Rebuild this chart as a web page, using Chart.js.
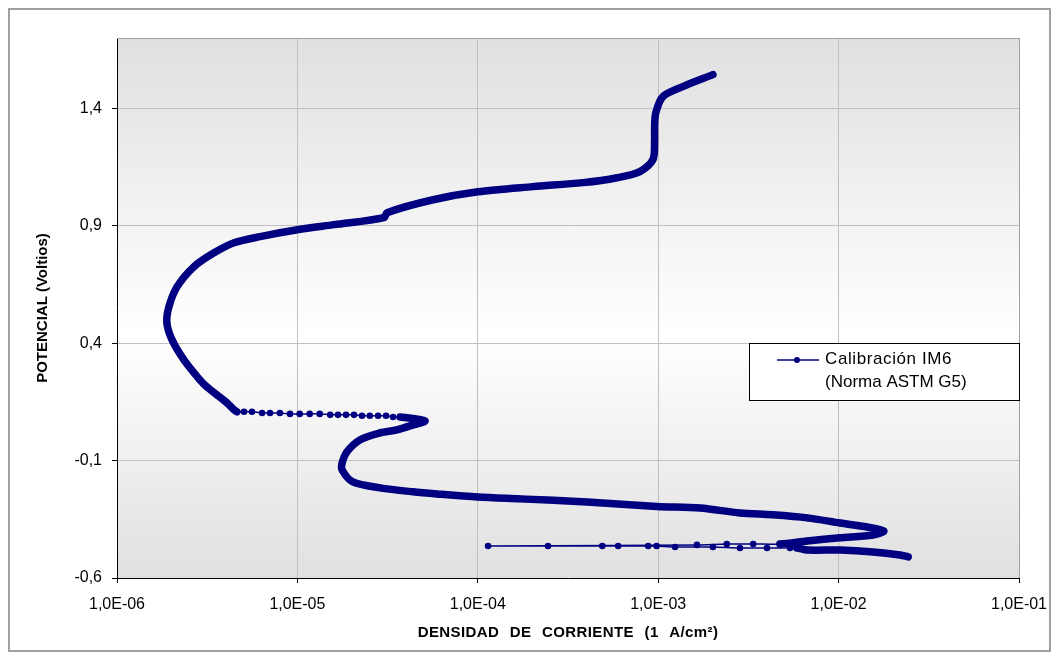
<!DOCTYPE html>
<html>
<head>
<meta charset="utf-8">
<script src="https://cdn.jsdelivr.net/npm/chart.js@4.4.1/dist/chart.umd.min.js"></script>
<style>
  html, body { margin: 0; padding: 0; background: #fff; }
  #wrap { width: 1060px; height: 660px; }
</style>
</head>
<body>
<div id="wrap"><canvas id="myChart"></canvas></div>
<script>
// Polarisation curve (ASTM G5 calibration), current density vs potential

// cathodic branch, from the lowest potential
const cathodicJ = [2.43e-2, 2.19e-2, 1.55e-2, 1.02e-2, 6.7e-3];
const cathodicE = [-0.510, -0.502, -0.489, -0.481, -0.481];

// around Ecorr: sparse points going left and back
const ecorrJ = [5.87e-3, 5.38e-3, 4.01e-3, 2.84e-3, 2.01e-3, 1.24e-3, 9.8e-4, 8.8e-4, 6.0e-4, 4.9e-4, 2.45e-4, 1.14e-4,
  1.64e-3, 2.40e-3, 3.36e-3, 4.73e-3];
const ecorrE = [-0.472, -0.472, -0.472, -0.472, -0.468, -0.468, -0.464, -0.464, -0.464, -0.464, -0.464, -0.464,
  -0.459, -0.455, -0.455, -0.455];

// active peak and secondary loop
const activeJ = [6.7e-3, 1.02e-2, 1.55e-2, 1.78e-2, 1.44e-2, 1.02e-2, 6.7e-3, 4.3e-3, 2.84e-3, 1.71e-3, 9.8e-4,
  4.03e-4, 1.71e-4, 1.0e-4, 5.94e-5, 4.38e-5, 2.87e-5, 2.03e-5, 1.77e-5, 1.77e-5, 1.88e-5, 2.22e-5, 2.87e-5,
  3.56e-5, 4.38e-5, 5.09e-5];
const activeE = [-0.442, -0.429, -0.417, -0.400, -0.383, -0.366, -0.344, -0.331, -0.323, -0.302, -0.295,
  -0.276, -0.263, -0.255, -0.242, -0.233, -0.216, -0.191, -0.140, -0.110, -0.063, -0.012, 0.018,
  0.031, 0.052, 0.069];

// drop after the secondary peak (single visible dots)
const dropJ = [3.71e-5, 3.39e-5, 3.10e-5, 2.80e-5, 2.52e-5, 2.28e-5, 2.06e-5, 1.86e-5, 1.68e-5, 1.52e-5,
  1.33e-5, 1.17e-5, 1.03e-5, 9.1e-6, 8.0e-6, 7.05e-6, 6.37e-6, 5.6e-6, 5.06e-6, 4.62e-6];
const dropE = [0.086, 0.086, 0.091, 0.091, 0.091, 0.091, 0.095, 0.095, 0.095, 0.095,
  0.099, 0.099, 0.099, 0.099, 0.103, 0.103, 0.103, 0.108, 0.108, 0.108];

// passive region and transpassive rise
const passiveJ = [4.07e-6, 3.15e-6, 2.88e-6, 2.35e-6, 2.02e-6, 1.89e-6, 1.94e-6, 2.15e-6, 2.67e-6, 3.45e-6, 4.46e-6,
  6.21e-6, 1.0e-5, 1.60e-5, 3.02e-5, 3.14e-5, 5.65e-5, 1.0e-4, 2.02e-4, 3.83e-4, 5.92e-4, 7.92e-4, 9.35e-4,
  9.55e-4, 9.55e-4, 9.7e-4, 1.06e-3, 1.37e-3, 2.01e-3];
const passiveE = [0.146, 0.214, 0.244, 0.329, 0.414, 0.487, 0.555, 0.640, 0.726, 0.785, 0.828,
  0.854, 0.883, 0.905, 0.935, 0.956, 1.011, 1.045, 1.067, 1.084, 1.105, 1.131, 1.182,
  1.267, 1.322, 1.382, 1.450, 1.493, 1.544];

const xTicks = [1e-6, 1e-5, 1e-4, 1e-3, 1e-2, 1e-1];
const yTicks = [-0.6, -0.1, 0.4, 0.9, 1.4];
const xTitle = "DENSIDAD DE CORRIENTE (1 A/cm²)";
const legendLines = ["Calibración IM6", "(Norma ASTM G5)"];

const lineColor = "#000080";

// join the branches into one series, remember which points are the loose dotted ones
const branches = [
  { j: cathodicJ, e: cathodicE, dotted: false },
  { j: ecorrJ, e: ecorrE, dotted: true },
  { j: activeJ, e: activeE, dotted: false },
  { j: dropJ, e: dropE, dotted: true },
  { j: passiveJ, e: passiveE, dotted: false },
];
const points = [];
const dottedAt = [];
branches.forEach((b) => {
  b.j.forEach((j, i) => {
    points.push({ x: j, y: b.e[i] });
    dottedAt.push(b.dotted);
  });
});

function sciLabel(v) {
  const [m, e] = v.toExponential(1).split("e");
  const exp = Math.abs(parseInt(e, 10)).toString().padStart(2, "0");
  return m.replace(".", ",") + "E" + (parseInt(e, 10) < 0 ? "-" : "+") + exp;
}

// plot background, outer frame, plot frame, x title and the legend box
const decorations = {
  id: "decorations",
  beforeDraw(chart) {
    const { ctx, chartArea: a } = chart;
    ctx.save();
    ctx.fillStyle = "#fff";
    ctx.fillRect(0, 0, chart.width, chart.height);
    const g = ctx.createLinearGradient(0, a.top, 0, a.bottom);
    g.addColorStop(0, "#e0e0e0");
    g.addColorStop(0.55, "#ffffff");
    g.addColorStop(1, "#e0e0e0");
    ctx.fillStyle = g;
    ctx.fillRect(a.left, a.top, a.right - a.left, a.bottom - a.top);
    ctx.strokeStyle = "#a0a0a0";
    ctx.lineWidth = 2;
    ctx.strokeRect(9, 9, chart.width - 19, chart.height - 18);
    ctx.restore();
  },
  beforeDatasetsDraw(chart) {
    const { ctx, chartArea: a } = chart;
    ctx.save();
    ctx.strokeStyle = "#a0a0a0";
    ctx.lineWidth = 1;
    ctx.beginPath();
    ctx.moveTo(a.left, a.top + 0.5);
    ctx.lineTo(a.right + 0.5, a.top + 0.5);
    ctx.lineTo(a.right + 0.5, a.bottom);
    ctx.stroke();
    ctx.restore();
  },
  afterDraw(chart) {
    const { ctx, chartArea: a } = chart;

    // x axis title, drawn here to get Excel's wide word gaps
    ctx.save();
    ctx.fillStyle = "#000";
    ctx.font = "bold 15px 'Liberation Sans', Arial, sans-serif";
    ctx.letterSpacing = "0.4px";
    ctx.wordSpacing = "6px";
    ctx.textAlign = "center";
    ctx.textBaseline = "middle";
    ctx.fillText(xTitle, (a.left + a.right) / 2, 633);
    ctx.restore();

    const w = 270, h = 57;
    const left = a.right - w, top = 343;
    ctx.save();
    ctx.fillStyle = "#fff";
    ctx.fillRect(left, top, w, h);
    ctx.strokeStyle = "#000";
    ctx.lineWidth = 1;
    ctx.strokeRect(left + 0.5, top + 0.5, w, h);
    ctx.strokeStyle = lineColor;
    ctx.lineWidth = 1.5;
    ctx.beginPath();
    ctx.moveTo(left + 28, top + 17);
    ctx.lineTo(left + 70, top + 17);
    ctx.stroke();
    ctx.fillStyle = lineColor;
    ctx.beginPath();
    ctx.arc(left + 48, top + 17, 3, 0, Math.PI * 2);
    ctx.fill();
    ctx.fillStyle = "#000";
    ctx.font = "17px 'Liberation Sans', Arial, sans-serif";
    ctx.textBaseline = "middle";
    ctx.letterSpacing = "0.6px";
    ctx.fillText(legendLines[0], left + 76, top + 16);
    ctx.letterSpacing = "0px";
    ctx.fillText(legendLines[1], left + 76, top + 39);
    ctx.restore();
  },
};

Chart.defaults.font.family = "'Liberation Sans', Arial, sans-serif";
Chart.defaults.color = "#000";

const chart = document.getElementById("myChart");

const config = {
  type: "scatter",
  data: {
    datasets: [
      {
        label: legendLines.join(" "),
        data: points,
        showLine: true,
        borderColor: lineColor,
        backgroundColor: lineColor,
        pointBackgroundColor: lineColor,
        pointBorderWidth: 0,
        pointRadius: 3.3,
        pointHoverRadius: 3.3,
        borderWidth: 7.5,
        tension: 0.3,
        borderCapStyle: "round",
        borderJoinStyle: "round",
        segment: {
          borderWidth: (ctx) => (dottedAt[ctx.p0DataIndex] && dottedAt[ctx.p1DataIndex] ? 1.5 : 7.5),
        },
      },
    ],
  },
  options: {
    responsive: true,
    maintainAspectRatio: false,
    animation: false,
    layout: { padding: { top: 38, right: 41, left: 0, bottom: 0 } },
    plugins: {
      legend: { display: false },
      tooltip: { enabled: false },
    },
    scales: {
      x: {
        type: "logarithmic",
        min: 1e-6,
        max: 1e-1,
        afterBuildTicks: (s) => {
          s.ticks = xTicks.map((v) => ({ value: v }));
        },
        afterFit: (s) => {
          s.height = 82;
        },
        ticks: {
          callback: (v) => sciLabel(v),
          font: { size: 16 },
          padding: 12,
          maxRotation: 0,
          autoSkip: false,
        },
        grid: { color: "#c0c0c0", tickColor: "#000", tickLength: 5 },
        border: { color: "#000", width: 1 },
        title: { display: false },
      },
      y: {
        type: "linear",
        min: -0.6,
        max: 1.7,
        afterBuildTicks: (s) => {
          s.ticks = yTicks.map((v) => ({ value: v }));
        },
        afterFit: (s) => {
          s.width = 117;
        },
        ticks: {
          callback: (v) => v.toFixed(1).replace(".", ","),
          font: { size: 16 },
          padding: 10,
        },
        grid: { color: "#c0c0c0", tickColor: "#000", tickLength: 5 },
        border: { color: "#000", width: 1 },
        title: {
          display: true,
          text: "POTENCIAL (Voltios)",
          font: { size: 15, weight: "bold" },
          padding: { top: 34, bottom: 0 },
        },
      },
    },
  },
  plugins: [decorations],
};

new Chart(chart, config);
</script>
</body>
</html>
